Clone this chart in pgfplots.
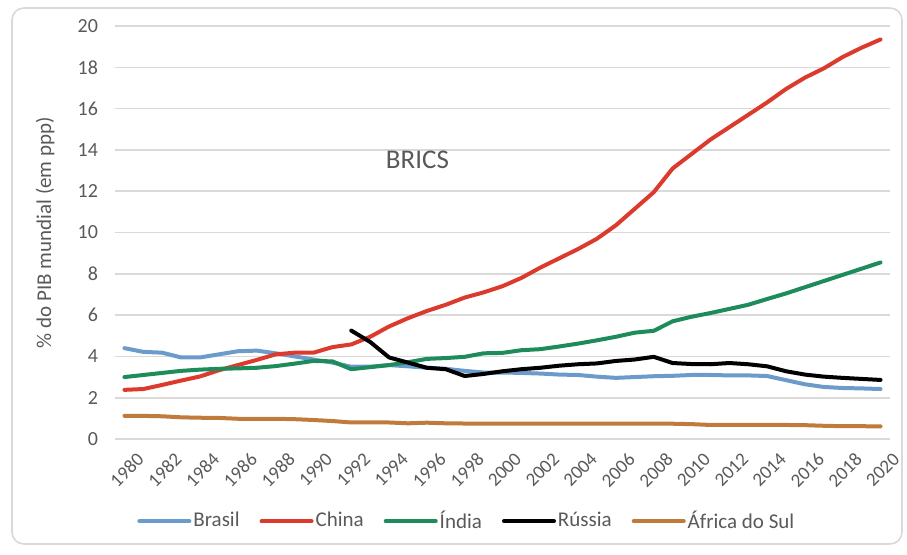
\documentclass[border=0pt]{standalone}
\usepackage{pgfplots}
\usepackage{pgfplotstable}
\pgfplotsset{compat=1.18}
\usepackage{fontspec}
\setmainfont{Carlito}
\definecolor{txtgray}{HTML}{595959}
\definecolor{gridgray}{HTML}{D9D9D9}
\definecolor{cbrasil}{HTML}{6A9BCB}
\definecolor{cchina}{HTML}{DC3A2C}
\definecolor{cindia}{HTML}{1E8C5A}
\definecolor{cafrica}{HTML}{BF7A3C}
\pgfplotstableread{
year brasil china india russia africa
1980 4.40 2.38 3.00 nan 1.12
1981 4.22 2.42 3.10 nan 1.12
1982 4.18 2.62 3.20 nan 1.10
1983 3.95 2.83 3.30 nan 1.05
1984 3.95 3.03 3.36 nan 1.03
1985 4.10 3.33 3.40 nan 1.02
1986 4.25 3.58 3.42 nan 0.98
1987 4.28 3.83 3.45 nan 0.97
1988 4.15 4.10 3.53 nan 0.98
1989 4.00 4.18 3.65 nan 0.96
1990 3.85 4.18 3.78 nan 0.92
1991 3.70 4.45 3.76 nan 0.87
1992 3.50 4.58 3.38 5.25 0.80
1993 3.50 4.95 3.48 4.70 0.80
1994 3.58 5.45 3.58 3.95 0.80
1995 3.52 5.85 3.72 3.70 0.76
1996 3.45 6.20 3.88 3.45 0.79
1997 3.40 6.50 3.92 3.38 0.76
1998 3.30 6.85 3.98 3.05 0.75
1999 3.22 7.10 4.15 3.15 0.74
2000 3.22 7.40 4.17 3.28 0.74
2001 3.20 7.80 4.30 3.38 0.74
2002 3.17 8.30 4.35 3.45 0.74
2003 3.12 8.75 4.48 3.55 0.74
2004 3.10 9.20 4.62 3.62 0.74
2005 3.02 9.70 4.78 3.66 0.74
2006 2.96 10.35 4.95 3.78 0.74
2007 3.00 11.15 5.15 3.85 0.74
2008 3.04 11.95 5.24 3.98 0.74
2009 3.06 13.10 5.70 3.68 0.74
2010 3.10 13.80 5.92 3.63 0.72
2011 3.10 14.50 6.10 3.62 0.68
2012 3.08 15.10 6.30 3.68 0.68
2013 3.08 15.70 6.50 3.62 0.68
2014 3.05 16.30 6.78 3.52 0.68
2015 2.85 16.95 7.05 3.28 0.68
2016 2.65 17.50 7.35 3.12 0.67
2017 2.52 17.95 7.65 3.02 0.64
2018 2.47 18.50 7.95 2.96 0.62
2019 2.45 18.95 8.25 2.91 0.62
2020 2.42 19.35 8.55 2.86 0.61
}\datatable
\begin{document}
\begin{tikzpicture}
\useasboundingbox (-57.5pt,-57.5pt) rectangle (396pt,219.5pt);
\draw[gray!30, line width=0.8pt, rounded corners=6pt] (-51.5pt,-52.5pt) rectangle (393.5pt,215.5pt);
\begin{axis}[
  scale only axis,
  width=387.5pt, height=206.5pt,
  at={(0,0)}, anchor=south west,
  xmin=1979.5, xmax=2020.5,
  ymin=0, ymax=20,
  xtick={1980,1982,...,2020},
  ytick={0,2,...,20},
  /pgf/number format/assume math mode=true,
  /pgf/number format/1000 sep={},
  ymajorgrids,
  grid style={gridgray, line width=0.8pt},
  axis line style={draw=none},
  tick style={draw=none},
  yticklabel style={xshift=-5pt, font=\fontsize{10}{12}\selectfont, text=txtgray},
  xticklabel style={rotate=45, anchor=north east, yshift=-5pt, xshift=3pt, font=\fontsize{9.5}{11}\selectfont, text=txtgray},
  ylabel={\% do PIB mundial (em ppp)},
  ylabel style={at={(axis description cs:-0.0903,0.5)}, anchor=center, font=\fontsize{10.5}{12}\selectfont, text=txtgray},
  legend columns=5,
  legend style={at={(axis description cs:0.454,-0.199)}, anchor=center, draw=none, fill=none,
    font=\fontsize{10.5}{12}\selectfont, text=txtgray,
    /tikz/every even column/.append style={column sep=9pt},
    nodes={inner sep=1pt}},
  legend image code/.code={\draw[#1, line width=2pt] (0pt,0pt) -- (25pt,0pt);},
  every axis plot/.append style={line width=2pt, line join=round, line cap=round},
  unbounded coords=jump,
]
\addplot[cbrasil] table[x=year, y=brasil] {\datatable};
\addlegendentry{Brasil}
\addplot[cchina] table[x=year, y=china] {\datatable};
\addlegendentry{China}
\addplot[cindia] table[x=year, y=india] {\datatable};
\addlegendentry{Índia}
\addplot[black] table[x=year, y=russia] {\datatable};
\addlegendentry{Rússia}
\addplot[cafrica] table[x=year, y=africa] {\datatable};
\addlegendentry{África do Sul}
\node[text=txtgray, font=\fontsize{13.5}{15}\selectfont] at (axis cs:1995.5,13.5) {BRICS};
\end{axis}
\end{tikzpicture}
\end{document}
